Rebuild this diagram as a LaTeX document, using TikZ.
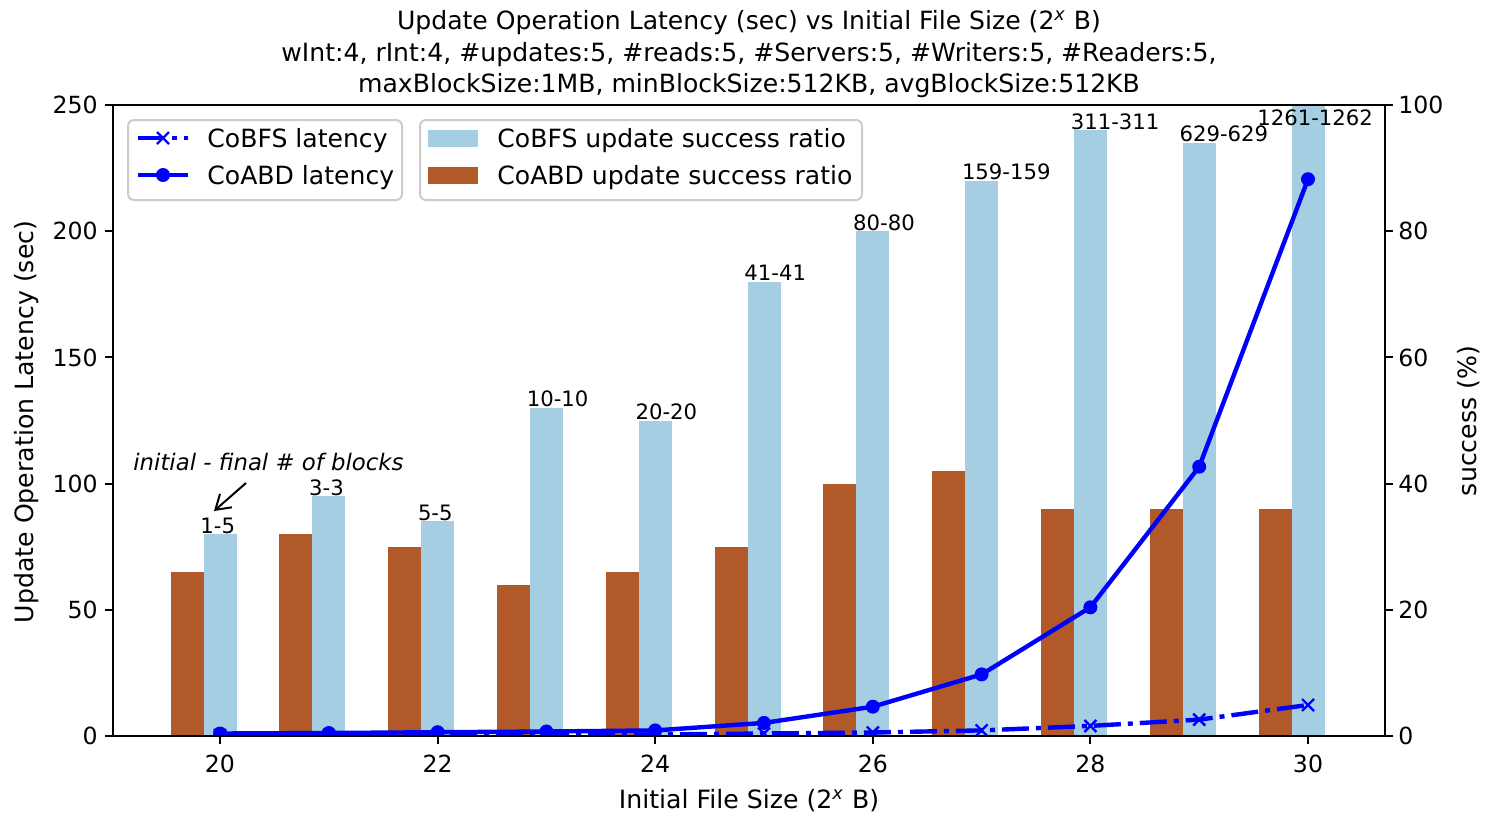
\documentclass[tikz,border=0pt]{standalone}
\usepackage{fontspec}
\setmainfont{DejaVu Sans}
\usetikzlibrary{arrows.meta}
\definecolor{barblue}{HTML}{A6CEE3}
\definecolor{barbrown}{HTML}{B15928}
\definecolor{lineblue}{HTML}{0000FF}
\definecolor{legendedge}{gray}{0.8}
\tikzset{
  barcobfs/.style={fill=barblue},
  barcoabd/.style={fill=barbrown},
  frame/.style={draw=black, line width=1pt},
  tickmark/.style={draw=black, line width=1pt},
  ticklabel/.style={font=\fontsize{11.8}{14}\selectfont, inner sep=0pt},
  axislabel/.style={font=\fontsize{12.6}{15}\selectfont, inner sep=0pt},
  titletext/.style={font=\fontsize{12.55}{15}\selectfont, inner sep=0pt, anchor=base},
  legendbox/.style={draw=legendedge, fill=white, line width=1pt, rounded corners=3pt},
  legendtext/.style={font=\fontsize{12.55}{15}\selectfont, inner sep=0pt, anchor=base west},
  barlabel/.style={font=\fontsize{10.6}{12}\selectfont, inner sep=0pt, anchor=base west},
  notetext/.style={font=\fontsize{11.4}{13}\selectfont\itshape, inner sep=0pt, anchor=base west},
  abdline/.style={draw=lineblue, line width=2.2pt, line join=round},
  bfsline/.style={draw=lineblue, line width=2.2pt, dash pattern=on 13.5pt off 3.5pt on 2.5pt off 3.5pt},
  dotmark/.style={circle, fill=lineblue, inner sep=0pt, minimum size=7pt},
  crossline/.style={draw=lineblue, line width=1.2pt},
}
\begin{document}
\begin{tikzpicture}[x=0.5pt, y=-0.5pt]
\useasboundingbox (0,0) rectangle (1485,815);

% success-ratio bars (right axis, percent): exponent / CoBFS / CoABD
\foreach \v/\b/\c in {20/32/26, 21/38/32, 22/34/30, 23/52/24, 24/50/26, 25/72/30,
                      26/80/40, 27/88/42, 28/96/36, 29/94/36, 30/100/36} {
  \pgfmathsetmacro{\xc}{220+(\v-20)*108.8}
  \fill[barcoabd] ({\xc-49.5},736) rectangle ({\xc-16.5},{736-\c*6.31});
  \fill[barcobfs] ({\xc-16.5},736) rectangle ({\xc+16.5},{736-\b*6.31});
}

% block-count labels above the CoBFS bars
\foreach \v/\b/\t in {20/32/1-5, 21/38/3-3, 22/34/5-5, 23/52/10-10, 24/50/20-20,
                      25/72/41-41, 26/80/80-80, 27/88/159-159, 28/96/311-311, 29/94/629-629} {
  \pgfmathsetmacro{\xc}{220+(\v-20)*108.8}
  \node[barlabel] (blk\v) at ({\xc-20},{736-\b*6.31-1}) {\t};
}
\node[barlabel] (blk30) at (1257,125) {1261-1262};

% latency data points (left axis, seconds)
\foreach \v/\a/\b in {20/733.5/735.2, 21/733.0/735.2, 22/732.2/735.0, 23/731.5/734.7,
                      24/730.4/734.5, 25/722.9/733.5, 26/706.7/732.5, 27/674.4/730.4,
                      28/607.3/725.9, 29/466.7/719.6, 30/179.2/705.0} {
  \pgfmathsetmacro{\xc}{220+(\v-20)*108.8}
  \coordinate (a\v) at (\xc,\a);
  \coordinate (b\v) at (\xc,\b);
}

\begin{scope}
  \clip (113,105) rectangle (1385,736);
  % CoBFS latency: dash-dot line with x markers
  \draw[bfsline] (b20) \foreach \i in {21,...,30} { -- (b\i) };
  \foreach \i in {20,...,30}
    \draw[crossline] (b\i) +(-6,-6) -- +(6,6) (b\i) +(-6,6) -- +(6,-6);
  % CoABD latency: solid line with round markers
  \draw[abdline] (a20) \foreach \i in {21,...,30} { -- (a\i) };
  \foreach \i in {20,...,30}
    \node[dotmark] (m\i) at (a\i) {};
\end{scope}

% axes frame
\draw[frame] (113,105) rectangle (1385,736);

% x ticks
\foreach \v in {20,22,...,30} {
  \pgfmathsetmacro{\xc}{220+(\v-20)*108.8}
  \draw[tickmark] (\xc,736) -- (\xc,744);
  \node[ticklabel, anchor=base] (xt\v) at (\xc,772) {\v};
}
% left ticks
\foreach \v in {0,50,...,250} {
  \pgfmathsetmacro{\yc}{736-\v*2.524}
  \draw[tickmark] (113,\yc) -- (105,\yc);
  \node[ticklabel, anchor=base east] (yl\v) at (98,{\yc+8.7}) {\v};
}
% right ticks
\foreach \v in {0,20,...,100} {
  \pgfmathsetmacro{\yc}{736-\v*6.31}
  \draw[tickmark] (1385,\yc) -- (1393,\yc);
  \node[ticklabel, anchor=base west] (yr\v) at (1398,{\yc+8.7}) {\v};
}

% axis labels
\node[axislabel, anchor=base] (xlabel) at (749,808) {Initial File Size (2\textsuperscript{\textit{x}} B)};
\node[axislabel, anchor=base, rotate=90] (ylabel) at (33,422) {Update Operation Latency (sec)};
\node[axislabel, anchor=base, rotate=90] (rlabel) at (1476,421) {success (\%)};

% title
\node[titletext] (title1) at (749,29) {Update Operation Latency (sec) vs Initial File Size (2\textsuperscript{\textit{x}} B)};
\node[titletext] (title2) at (749,61) {wInt:4, rInt:4, \#updates:5, \#reads:5, \#Servers:5, \#Writers:5, \#Readers:5,};
\node[titletext] (title3) at (749,92) {maxBlockSize:1MB, minBlockSize:512KB, avgBlockSize:512KB};

% annotation
\node[notetext] (note) at (133,470) {initial - final \# of blocks};
\coordinate (notetail) at (246,483);
\coordinate (notehead) at (214,511);
\draw[-{Straight Barb[length=7pt,width=9pt]}, line width=1pt] (notetail) -- (notehead);

% legend: latency lines
\draw[legendbox] (128,120) rectangle (402,200);
\coordinate (lg1a) at (138,138);
\coordinate (lg1b) at (188,138);
\coordinate (lg1m) at (163,138);
\draw[bfsline] (lg1a) -- (lg1b);
\draw[crossline] (lg1m) +(-6,-6) -- +(6,6) (lg1m) +(-6,6) -- +(6,-6);
\node[legendtext] (lgt1) at (207,147) {CoBFS latency};
\coordinate (lg2a) at (138,175);
\coordinate (lg2b) at (188,175);
\draw[abdline] (lg2a) -- (lg2b);
\node[dotmark] (lg2m) at (163,175) {};
\node[legendtext] (lgt2) at (207,184) {CoABD latency};

% legend: success bars
\draw[legendbox] (420,120) rectangle (862,200);
\fill[barcobfs] (428,130) rectangle (478,147);
\node[legendtext] (lgt3) at (497,147) {CoBFS update success ratio};
\fill[barcoabd] (428,167) rectangle (478,184);
\node[legendtext] (lgt4) at (497,184) {CoABD update success ratio};
\end{tikzpicture}
\end{document}
